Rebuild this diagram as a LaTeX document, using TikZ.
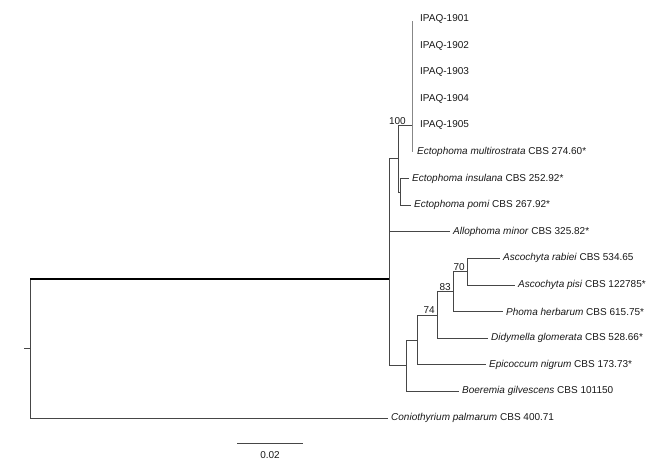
\documentclass[tikz,border=0pt]{standalone}
\usepackage{fontspec}
\setmainfont{Liberation Sans}
\definecolor{brc}{RGB}{70,70,70}
\definecolor{brl}{RGB}{135,135,135}
\begin{document}
\begin{tikzpicture}[x=1pt,y=-1pt,
  br/.style={draw=brc, line width=0.8pt},
  brlight/.style={draw=brl, line width=1pt},
  lab/.style={anchor=west, inner sep=0pt, inner xsep=3pt, font=\fontsize{10}{12}\selectfont, text=black!90},
  bs/.style={anchor=south east, inner sep=1pt, font=\fontsize{10}{12}\selectfont, text=black!90}]
\fill[white] (0,0) rectangle (670,467);
\useasboundingbox (0,0) rectangle (670,467);
% internal nodes
\coordinate (S) at (24,348.5);
\coordinate (R) at (30,348.5);
\coordinate (Rt) at (30,279);
\coordinate (A) at (389,279);
\coordinate (E) at (398,158.7);
\coordinate (I) at (412,125.4);
\coordinate (P) at (400,191.9);
\coordinate (D) at (406,365.6);
\coordinate (N4) at (417,339.9);
\coordinate (N74) at (437,315);
\coordinate (N83) at (453,291.7);
\coordinate (N70) at (467,271.7);
% leaves
\node[lab, inner xsep=8pt] (L1) at (412,19) {IPAQ-1901};
\node[lab, inner xsep=8pt] (L2) at (412,45.6) {IPAQ-1902};
\node[lab, inner xsep=8pt] (L3) at (412,72.2) {IPAQ-1903};
\node[lab, inner xsep=8pt] (L4) at (412,98.8) {IPAQ-1904};
\node[lab, inner xsep=8pt] (L5) at (412,125.4) {IPAQ-1905};
\node[lab, inner xsep=5pt] (L6) at (412,152) {\textit{Ectophoma multirostrata} CBS 274.60*};
\node[lab] (L7) at (409,178.6) {\textit{Ectophoma insulana} CBS 252.92*};
\node[lab] (L8) at (411,205.2) {\textit{Ectophoma pomi} CBS 267.92*};
\node[lab] (L9) at (450,231.8) {\textit{Allophoma minor} CBS 325.82*};
\node[lab] (L10) at (500,258.4) {\textit{Ascochyta rabiei} CBS 534.65};
\node[lab] (L11) at (515,285) {\textit{Ascochyta pisi} CBS 122785*};
\node[lab] (L12) at (503,311.6) {\textit{Phoma herbarum} CBS 615.75*};
\node[lab] (L13) at (488,338.2) {\textit{Didymella glomerata} CBS 528.66*};
\node[lab] (L14) at (486,364.8) {\textit{Epicoccum nigrum} CBS 173.73*};
\node[lab] (L15) at (459,391.4) {\textit{Boeremia gilvescens} CBS 101150};
\node[lab] (L16) at (388,418) {\textit{Coniothyrium palmarum} CBS 400.71};
% branches
\draw[br] (S) -- (R);
\draw[br] (R) -- (Rt);
\draw[draw=black, line width=1.2pt] (Rt) -- (A);
\draw[br] (R) |- (L16.west);
\draw[br] (A) |- (E);
\draw[br] (A) |- (L9.west);
\draw[br] (A) |- (D);
\draw[br] (E) |- (I);
\draw[br] (E) |- (P);
\draw[brlight] ([yshift=-2pt]L1.west) -- (I);
\draw[brlight] (I) -- (L6.west);
\draw[br] (P) |- (L7.west);
\draw[br] (P) |- (L8.west);
\draw[br] (D) |- (N4);
\draw[br] (D) |- (L15.west);
\draw[br] (N4) |- (N74);
\draw[br] (N4) |- (L14.west);
\draw[br] (N74) |- (N83);
\draw[br] (N74) |- (L13.west);
\draw[br] (N83) |- (N70);
\draw[br] (N83) |- (L12.west);
\draw[br] (N70) |- (L10.west);
\draw[br] (N70) |- (L11.west);
% bootstrap values
\node[bs] (b100) at ([xshift=-5pt]I) {100};
\node[bs] (b70) at ([xshift=-1pt]N70) {70};
\node[bs] (b83) at ([xshift=-1pt]N83) {83};
\node[bs] (b74) at ([xshift=-1pt]N74) {74};
% scale bar
\coordinate (sb1) at (237,443);
\coordinate (sb2) at (303,443);
\draw[br] (sb1) -- (sb2);
\node[font=\fontsize{10}{12}\selectfont, text=black!90] (sbl) at (270,455) {0.02};
\end{tikzpicture}
\end{document}
